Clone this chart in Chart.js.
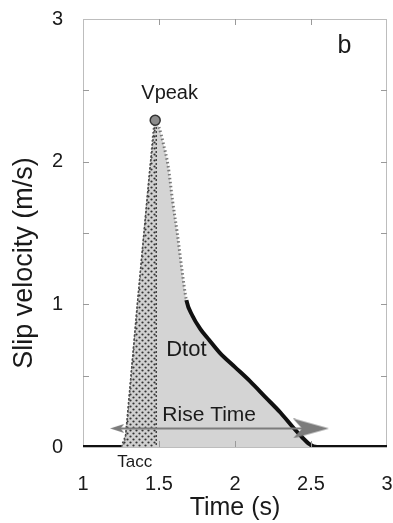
<!DOCTYPE html>
<html>
<head>
<meta charset="utf-8">
<script src="https://cdn.jsdelivr.net/npm/chart.js@4.4.1/dist/chart.umd.min.js"></script>
<style>
  html, body { margin: 0; padding: 0; background: #fff; }
  #wrap { width: 393px; height: 523px; }
</style>
</head>
<body>
<div id="wrap"><canvas id="grafico" width="393" height="523"></canvas></div>
<script>
// datos
const tiempo = [1.0, 1.25, 1.28, 1.32, 1.36, 1.40, 1.44, 1.475, 1.50, 1.53, 1.56, 1.59, 1.62, 1.65, 1.68, 1.72, 1.77, 1.83, 1.90, 2.00, 2.10, 2.20, 2.30, 2.38, 2.44, 2.49, 2.54, 3.0];
const velocidad = [0, 0, 0.08, 0.55, 1.03, 1.49, 1.95, 2.29, 2.24, 2.12, 1.97, 1.72, 1.50, 1.25, 1.03, 0.92, 0.83, 0.75, 0.66, 0.56, 0.46, 0.35, 0.24, 0.14, 0.07, 0.02, 0, 0];
const taccTiempo = [1.25, 1.28, 1.32, 1.36, 1.40, 1.44, 1.475, 1.482, 1.482];
const taccVelocidad = [0, 0.08, 0.55, 1.03, 1.49, 1.95, 2.29, 2.27, 0];
const picoTiempo = [1.475];
const picoVelocidad = [2.29];
const flechaTiempo = [1.225, 2.50];
const flechaVelocidad = [0.13, 0.13];
const xEtiquetas = [1, 1.5, 2, 2.5, 3];
const yEtiquetas = [0, 1, 2, 3];
const notas = ["Vpeak", "Dtot", "Rise Time", "Tacc", "b"];
const notasTiempo = [1.57, 1.68, 1.83, 1.34, 2.72];
const notasVelocidad = [2.48, 0.68, 0.22, -0.105, 2.81];
const notasTamano = [20, 22, 21, 17, 25];
const tituloY = "Slip velocity (m/s)";

function puntos(xs, ys) {
  return xs.map((x, i) => ({ x: x, y: ys[i] }));
}

function crearTrama(ctx) {
  const c = document.createElement("canvas");
  c.width = 6;
  c.height = 6;
  const g = c.getContext("2d");
  g.fillStyle = "#d0d0d0";
  g.fillRect(0, 0, 6, 6);
  g.fillStyle = "#333";
  [[1.5, 1.5], [4.5, 4.5]].forEach(([px, py]) => {
    g.beginPath();
    g.arc(px, py, 1.1, 0, Math.PI * 2);
    g.fill();
  });
  return ctx.createPattern(c, "repeat");
}

function crearPunta(largo, alto, color) {
  const c = document.createElement("canvas");
  c.width = largo;
  c.height = alto;
  const g = c.getContext("2d");
  g.fillStyle = color;
  g.beginPath();
  g.moveTo(0, 0);
  g.lineTo(largo, alto / 2);
  g.lineTo(0, alto);
  g.lineTo(largo * 0.25, alto / 2);
  g.closePath();
  g.fill();
  return c;
}

const subida = (c) => c.p1.parsed.y > c.p0.parsed.y;
const arriba = (c) => !subida(c) && c.p0.parsed.y > 1.2;

const marco = {
  id: "marco",
  beforeDatasetsDraw(chart) {
    const { ctx, chartArea: a } = chart;
    ctx.save();
    ctx.strokeStyle = "#bdbdbd";
    ctx.lineWidth = 1;
    ctx.strokeRect(a.left + 0.5, a.top + 0.5, a.right - a.left - 1, a.bottom - a.top);
    ctx.restore();
  },
  afterDatasetsDraw(chart) {
    const { ctx, chartArea: a, scales } = chart;
    ctx.save();
    ctx.strokeStyle = "#9a9a9a";
    ctx.lineWidth = 1;
    scales.x.ticks.forEach((t) => {
      if (t.value <= 1 || t.value >= 3) return;
      const px = Math.round(scales.x.getPixelForValue(t.value)) + 0.5;
      ctx.beginPath();
      ctx.moveTo(px, a.top); ctx.lineTo(px, a.top + 6);
      ctx.moveTo(px, a.bottom); ctx.lineTo(px, a.bottom - 6);
      ctx.stroke();
    });
    scales.y.ticks.forEach((t) => {
      if (t.value <= 0 || t.value >= 3) return;
      const py = Math.round(scales.y.getPixelForValue(t.value)) + 0.5;
      ctx.beginPath();
      ctx.moveTo(a.left, py); ctx.lineTo(a.left + 6, py);
      ctx.moveTo(a.right, py); ctx.lineTo(a.right - 6, py);
      ctx.stroke();
    });
    ctx.fillStyle = "#1a1a1a";
    ctx.textAlign = "center";
    ctx.textBaseline = "middle";
    notas.forEach((txt, i) => {
      ctx.font = notasTamano[i] + "px 'Liberation Sans', Arial, sans-serif";
      ctx.fillText(txt, scales.x.getPixelForValue(notasTiempo[i]), scales.y.getPixelForValue(notasVelocidad[i]));
    });
    // titulo del eje y, algo por debajo del centro como en la figura
    ctx.font = "27px 'Liberation Sans', Arial, sans-serif";
    ctx.translate(25, scales.y.getPixelForValue(1.29));
    ctx.rotate(-Math.PI / 2);
    ctx.fillText(tituloY, 0, 0);
    ctx.restore();
  }
};

document.addEventListener("DOMContentLoaded", function () {
  const canvas = document.getElementById("grafico");
  const ctx = canvas.getContext("2d");
  const trama = crearTrama(ctx);
  const puntaDer = crearPunta(36, 20, "#7c7c7c");
  const puntaIzq = crearPunta(14, 9, "#7c7c7c");
  const fuente = "'Liberation Sans', Arial, sans-serif";

  new Chart(ctx, {
    type: "line",
    data: {
      datasets: [
        {
          // relleno gris bajo la curva
          data: puntos(tiempo, velocidad),
          fill: "origin",
          backgroundColor: "#d4d4d4",
          borderWidth: 0,
          pointRadius: 0,
          cubicInterpolationMode: "monotone",
          order: 5
        },
        {
          data: puntos(taccTiempo, taccVelocidad),
          fill: "origin",
          backgroundColor: trama,
          borderColor: "#444",
          borderWidth: 1.5,
          borderDash: [2, 2],
          pointRadius: 0,
          tension: 0,
          order: 4
        },
        {
          data: puntos(tiempo, velocidad),
          fill: false,
          borderColor: "#111",
          borderWidth: 4,
          pointRadius: 0,
          cubicInterpolationMode: "monotone",
          segment: {
            borderColor: (c) => subida(c) ? "#555" : (arriba(c) ? "#777" : "#111"),
            borderWidth: (c) => subida(c) ? 1.5 : (arriba(c) ? 3 : 4),
            borderDash: (c) => subida(c) || arriba(c) ? [1.5, 2.5] : undefined
          },
          order: 3
        },
        {
          data: puntos(flechaTiempo, flechaVelocidad),
          borderColor: "#7c7c7c",
          borderWidth: 2,
          fill: false,
          pointStyle: [puntaIzq, puntaDer],
          pointRotation: [180, 0],
          pointRadius: 10,
          order: 1
        },
        {
          data: puntos(picoTiempo, picoVelocidad),
          showLine: false,
          pointRadius: 5,
          pointBackgroundColor: "#8c8c8c",
          pointBorderColor: "#333",
          pointBorderWidth: 1.5,
          order: 0
        }
      ]
    },
    options: {
      responsive: false,
      animation: false,
      layout: { autoPadding: false, padding: { top: 19, right: 6, bottom: 0, left: 0 } },
      plugins: { legend: { display: false }, tooltip: { enabled: false } },
      scales: {
        x: {
          type: "linear",
          min: 1,
          max: 3,
          grid: { display: false, drawTicks: false },
          border: { display: false },
          ticks: {
            stepSize: 0.5,
            padding: 25,
            color: "#1a1a1a",
            font: { size: 20, family: fuente },
            callback: (v) => xEtiquetas.includes(v) ? String(v) : ""
          },
          title: {
            display: true,
            text: "Time (s)",
            color: "#1a1a1a",
            font: { size: 25, family: fuente },
            padding: { top: 0, bottom: 0 }
          },
          afterFit: (s) => { s.height = 76; s.paddingLeft = 0; s.paddingRight = 0; }
        },
        y: {
          min: 0,
          max: 3,
          grid: { display: false, drawTicks: false },
          border: { display: false },
          ticks: {
            stepSize: 0.5,
            padding: 20,
            color: "#1a1a1a",
            font: { size: 20, family: fuente },
            callback: (v) => yEtiquetas.includes(v) ? String(v) : ""
          },
          afterFit: (s) => { s.width = 83; s.paddingTop = 0; s.paddingBottom = 0; }
        }
      }
    },
    plugins: [marco]
  });
});
</script>
</body>
</html>
